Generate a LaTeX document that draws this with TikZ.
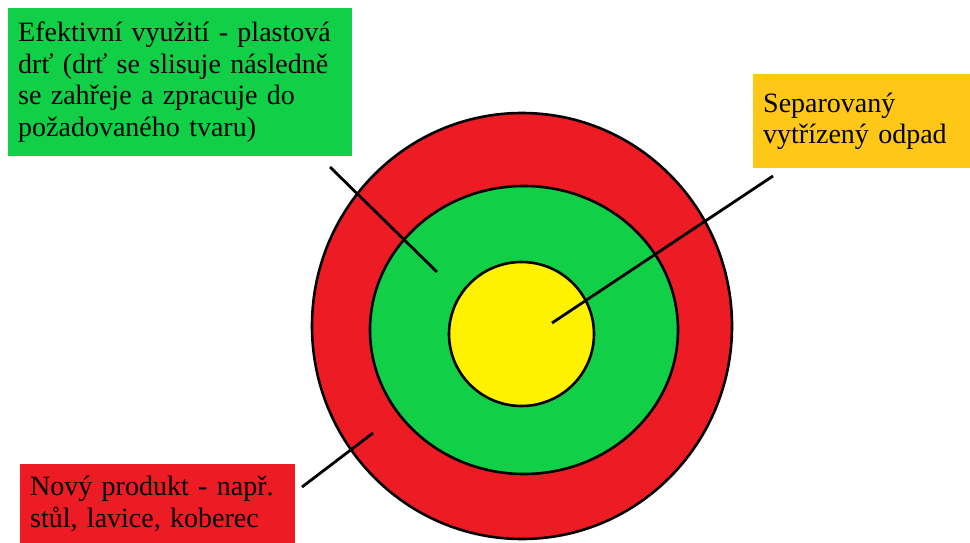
\documentclass[tikz,border=0pt]{standalone}
\usepackage{fontspec}
\setmainfont{Liberation Serif}
\definecolor{ringred}{RGB}{237,28,36}
\definecolor{ringgreen}{RGB}{17,208,72}
\definecolor{coreyellow}{RGB}{255,242,0}
\definecolor{boxyellow}{RGB}{255,200,24}
\tikzset{
  labelbox/.style={anchor=north west, inner xsep=10pt, inner ysep=0pt, align=left,
    font=\fontsize{28}{31.5}\selectfont, text=black},
  ring/.style={draw=black, line width=2.6pt},
  pointer/.style={draw=black, line width=2.8pt}
}
\begin{document}
\begin{tikzpicture}[x=1pt,y=-1pt]
\useasboundingbox (0,0) rectangle (970,543);
% rings
\draw[ring, fill=ringred] (522,326) ellipse [x radius=210, y radius=213];
\draw[ring, fill=ringgreen] (524,330) ellipse [x radius=154, y radius=144];
\draw[ring, fill=coreyellow] (521.5,334) ellipse [x radius=72.5, y radius=72];
% label boxes
\node[labelbox, fill=ringgreen, minimum width=344pt, minimum height=148pt, text width=324pt] (effective) at (8,8)
  {Efektivní využití - plastová\\drť (drť se slisuje následně\\se zahřeje a zpracuje do\\požadovaného tvaru)};
\node[labelbox, fill=boxyellow, minimum width=217pt, minimum height=94pt, text width=197pt] (separated) at (753,74)
  {Separovaný\\vytřízený odpad};
\node[labelbox, fill=ringred, minimum width=275pt, minimum height=79pt, text width=255pt] (product) at (20,464)
  {Nový produkt - např.\\stůl, lavice, koberec};
% pointer ends
\coordinate (p1a) at (330,167);
\coordinate (p1b) at (437,272);
\coordinate (p2a) at (773,176);
\coordinate (p2b) at (552,323);
\coordinate (p3a) at (302,487);
\coordinate (p3b) at (373,433);
\draw[pointer] (p1a) -- (p1b);
\draw[pointer] (p2a) -- (p2b);
\draw[pointer] (p3a) -- (p3b);
\end{tikzpicture}
\end{document}
